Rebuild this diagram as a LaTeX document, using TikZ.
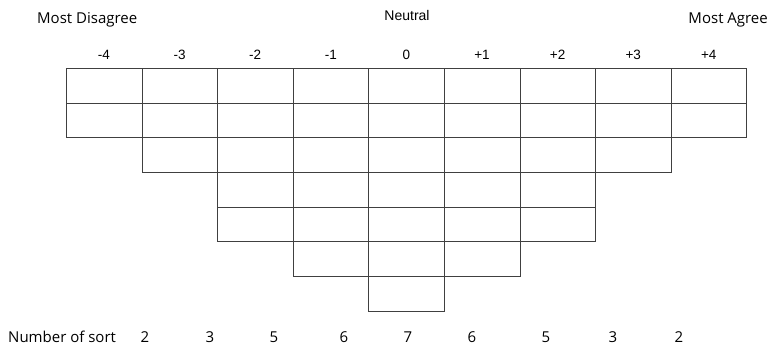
\documentclass[tikz,border=0pt]{standalone}
\usepackage{fontspec}
\setmainfont{Liberation Sans}
\newfontfamily\gothic{Open Sans}
\usetikzlibrary{positioning}

\begin{document}
\begin{tikzpicture}[x=1pt, y=-1pt, every node/.style={inner sep=0pt},
    cell/.style={draw=black!75, line width=0.8pt, minimum width=75.6pt, minimum height=34.7pt, anchor=north west},
    colnum/.style={font=\fontsize{13.5}{15}\selectfont, anchor=base},
    sortnum/.style={font=\gothic\fontsize{15}{17}\selectfont, anchor=base}]
  \useasboundingbox (0,0) rectangle (773,347);
  % headings
  \node[font=\gothic\fontsize{15}{17}\selectfont, anchor=base west] (disagree) at (37,24) {Most Disagree};
  \node[font=\fontsize{14}{16}\selectfont, anchor=base] (neutral) at (407,21) {Neutral};
  \node[font=\gothic\fontsize{15}{17}\selectfont, anchor=base east] (agree) at (768,24) {Most Agree};
  % sorting grid
  \foreach \lab/\n [count=\i from 0] in {-4/2,-3/3,-2/5,-1/6,0/7,+1/6,+2/5,+3/3,+4/2} {
    \foreach \r in {1,...,\n}
      \node[cell] (c\i r\r) at (66+\i*75.6, 68+\r*34.7-34.7) {};
    \node[colnum] (h\i) at (104+\i*75.6, 60) {\lab};
  }
  % counts per column
  \node[font=\gothic\fontsize{15}{17}\selectfont, anchor=base west] (sortlabel) at (8,342) {Number of sort};
  \foreach \x/\n [count=\i] in {145/2,210/3,274/5,344/6,408/7,472/6,546/5,613/3,679/2}
    \node[sortnum] (s\i) at (\x,342) {\n};
\end{tikzpicture}
\end{document}
